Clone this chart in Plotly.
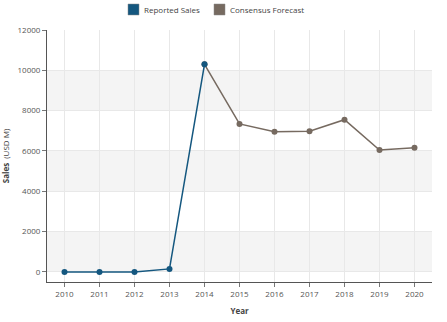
import plotly.graph_objects as go

# Annual sales, USD millions
reported_years = [2010, 2011, 2012, 2013, 2014]
reported_sales = [0, 0, 0, 150, 10300]

forecast_years = [2014, 2015, 2016, 2017, 2018, 2019, 2020]
forecast_sales = [10300, 7340, 6950, 6980, 7550, 6050, 6160]

year_ticks = list(range(2010, 2021))
sales_ticks = [0, 2000, 4000, 6000, 8000, 10000, 12000]

series_names = ["Reported Sales", "Consensus Forecast"]

BLUE = "#14577f"
BROWN = "#766a60"
FONT = "Open Sans"

W, H = 447, 322
ML, MR, MT, MB = 47, 15, 30, 40
PW, PH = W - ML - MR, H - MT - MB


def px_x(p):
    """Horizontal pixel position -> paper coordinate."""
    return (p - ML) / PW


def px_y(p):
    """Vertical pixel position (from top) -> paper coordinate."""
    return (H - MB - p) / PH


fig = go.Figure()

# Alternating shaded bands behind the data
for lo, hi in [(0, 2000), (4000, 6000), (8000, 10000)]:
    fig.add_shape(type="rect", xref="paper", yref="y", x0=0, x1=1, y0=lo, y1=hi,
                  fillcolor="#f4f4f4", line_width=0, layer="below")

fig.add_trace(go.Scatter(
    x=forecast_years, y=forecast_sales, mode="lines+markers", name=series_names[1],
    line=dict(color=BROWN, width=1.5), marker=dict(color=BROWN, size=6),
    showlegend=False))
fig.add_trace(go.Scatter(
    x=reported_years, y=reported_sales, mode="lines+markers", name=series_names[0],
    line=dict(color=BLUE, width=1.5), marker=dict(color=BLUE, size=6),
    showlegend=False))

# Legend row: square swatch followed by its label
for (left, name, color) in [(128, series_names[0], BLUE), (214, series_names[1], BROWN)]:
    fig.add_shape(type="rect", xref="paper", yref="paper",
                  x0=px_x(left), x1=px_x(left + 11), y0=px_y(15), y1=px_y(4),
                  fillcolor=color, line=dict(color="#888", width=0.5))
    fig.add_annotation(xref="paper", yref="paper", x=px_x(left + 14), y=px_y(9.5),
                       xanchor="left", yanchor="middle", showarrow=False,
                       text=name, font=dict(size=8, color="#444", family=FONT))

fig.update_layout(
    width=W, height=H,
    margin=dict(l=ML, r=MR, t=MT, b=MB, autoexpand=False),
    paper_bgcolor="white", plot_bgcolor="white",
    font=dict(family=FONT, size=8, color="#555"),
    showlegend=False,
    xaxis=dict(
        range=[2009.5, 2020.5], tickvals=year_ticks, ticktext=[str(y) for y in year_ticks],
        showgrid=True, gridcolor="#e8e8e8", gridwidth=1,
        showline=True, linecolor="#555", linewidth=1,
        ticks="outside", ticklen=4, tickcolor="#777",
        tickfont=dict(size=8, color="#555"),
        title=dict(text="<b>Year</b>", font=dict(size=8, color="#444"), standoff=10),
        zeroline=False),
    yaxis=dict(
        range=[-500, 12000], tickvals=sales_ticks, ticktext=[str(v) for v in sales_ticks],
        showgrid=True, gridcolor="#e8e8e8", gridwidth=1,
        showline=True, linecolor="#555", linewidth=1,
        ticks="outside", ticklen=4, tickcolor="#777",
        tickfont=dict(size=8, color="#555"),
        title=dict(text="<b>Sales</b>  (USD M)", font=dict(size=8, color="#444"), standoff=6),
        zeroline=False),
)

fig.write_html("out.html")
